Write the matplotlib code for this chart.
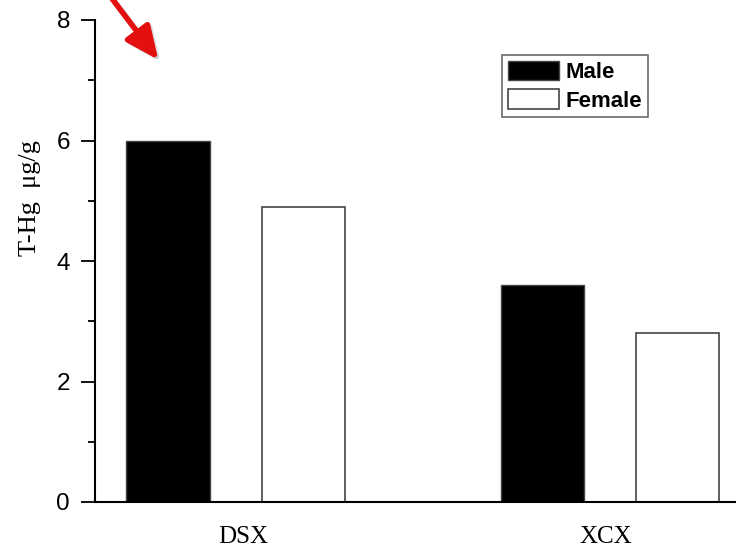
import matplotlib
matplotlib.use("Agg")
import matplotlib.pyplot as plt
from matplotlib.patches import FancyArrowPatch
import numpy as np

categories = ["DSX", "XCX"]
series_names = ["Male", "Female"]
male = [6.0, 3.6]
female = [4.9, 2.8]
y_ticks = [0, 2, 4, 6, 8]

fig = plt.figure(figsize=(7.36, 5.48), dpi=100)
ax = fig.add_axes([95/736, 46/548, 1 - 95/736, 482/548])

x = np.arange(len(categories))
w = 0.222
off = 0.181
ax.bar(x - off, male, w, color="black", edgecolor="#444444", linewidth=1.0, label=series_names[0])
ax.bar(x + off, female, w, color="white", edgecolor="#444444", linewidth=1.2, label=series_names[1])

ax.set_xlim(-0.376, 1.337)
ax.set_ylim(0, 8)
ax.set_yticks(y_ticks)
ax.set_yticks([1, 3, 5, 7], minor=True)
ax.set_yticklabels([str(t) for t in y_ticks], fontfamily="Liberation Sans", fontsize=17.5)
ax.tick_params(axis="y", which="major", direction="out", length=10, width=1.3, pad=8)
ax.tick_params(axis="y", which="minor", direction="out", length=5, width=1.3)

ax.set_xticks(x + np.array([0.02, -0.012]))
ax.set_xticklabels(categories, fontfamily="Liberation Serif", fontsize=18)
ax.tick_params(axis="x", length=0, pad=17)

for s in ["top", "right"]:
    ax.spines[s].set_visible(False)
ax.spines["left"].set_linewidth(1.5)
ax.spines["bottom"].set_linewidth(1.5)

ax.set_ylabel("T-Hg  μg/g", fontfamily="Liberation Serif", fontsize=19)
ax.yaxis.set_label_coords(-0.084, 0.63)

leg = ax.legend(loc="upper left", bbox_to_anchor=((502-95)/641, 1 - (55-20)/482),
                prop={"family": "Liberation Sans", "weight": "bold", "size": 16},
                frameon=True, fancybox=False, edgecolor="#444444",
                handlelength=2.3, handleheight=0.95, handletextpad=0.3,
                labelspacing=0.3, borderpad=0.25, borderaxespad=0)
leg.get_frame().set_linewidth(1.2)

shadow = FancyArrowPatch((106, 558), (162, 484), transform=None,
                         arrowstyle="-|>,head_length=20,head_width=9",
                         color="#bbbbbb", alpha=0.5, linewidth=4, mutation_scale=1)
fig.patches.append(shadow)
arrow = FancyArrowPatch((104, 560), (160, 486), transform=None,
                        arrowstyle="-|>,head_length=20,head_width=9",
                        color="#e41010", linewidth=4, mutation_scale=1)
fig.patches.append(arrow)

fig.savefig("out.png", dpi=100)
